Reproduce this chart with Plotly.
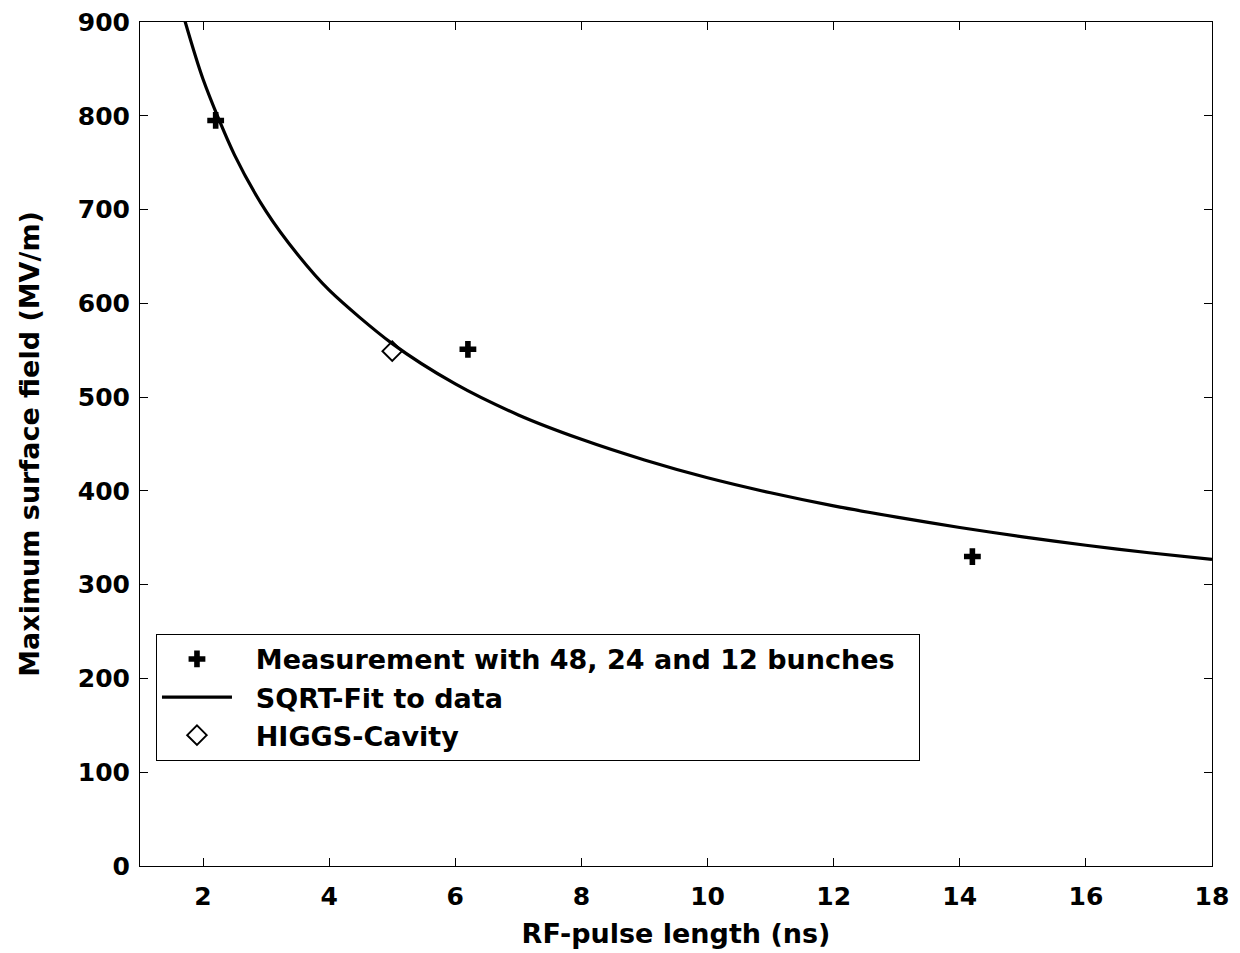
import plotly.graph_objects as go

# Breakdown measurements (pulse length in ns, surface field in MV/m)
meas_x = [2.2, 6.2, 14.2]
meas_y = [795, 551, 330]

# HIGGS cavity result
higgs_x = [5.0]
higgs_y = [549]

# SQRT fit curve sampled along pulse length
fit_x = [1.70, 2.0, 2.5, 3.0, 3.5, 4.0, 5.0, 6.0, 7.0, 8.0, 9.0,
         10.0, 11.0, 12.0, 13.0, 14.0, 15.0, 16.0, 17.0, 18.0]
fit_y = [904, 839, 758, 698, 652, 614, 557, 514, 481, 455, 433,
         414, 398, 384, 372, 361, 351, 342, 334, 327]

x_ticks = [2, 4, 6, 8, 10, 12, 14, 16, 18]
y_ticks = [0, 100, 200, 300, 400, 500, 600, 700, 800, 900]

FONT = "DejaVu Sans"
PAD = "\u00a0\u00a0"

fig = go.Figure()
fig.add_trace(go.Scatter(
    x=meas_x, y=meas_y, mode="markers",
    name=PAD + "Measurement with 48, 24 and 12 bunches" + PAD,
    marker=dict(symbol="cross", size=14, color="black"),
))
fig.add_trace(go.Scatter(
    x=fit_x, y=fit_y, mode="lines",
    name=PAD + "SQRT-Fit to data",
    line=dict(color="black", width=3.2, shape="spline", smoothing=0.8),
))
fig.add_trace(go.Scatter(
    x=higgs_x, y=higgs_y, mode="markers",
    name=PAD + "HIGGS-Cavity",
    marker=dict(symbol="diamond-open", size=15, color="black",
                line=dict(width=2, color="black")),
))

axis_common = dict(
    showline=True, linecolor="black", linewidth=1, mirror="ticks",
    ticks="inside", ticklen=8, tickcolor="black", tickwidth=1,
    showgrid=False, zeroline=False, automargin=False,
    tickfont=dict(family=FONT, size=25, color="black", weight="bold"),
)

fig.update_xaxes(
    range=[1, 18], tickvals=x_ticks, ticktext=[str(v) for v in x_ticks],
    ticklabelstandoff=8,
    title=dict(text="RF-pulse length (ns)", standoff=14,
               font=dict(family=FONT, size=27, color="black", weight="bold")),
    **axis_common,
)
fig.update_yaxes(
    range=[0, 900], tickvals=y_ticks, ticktext=[str(v) for v in y_ticks],
    ticklabelstandoff=4,
    title=dict(text="Maximum surface field (MV/m)", standoff=30,
               font=dict(family=FONT, size=27, color="black", weight="bold")),
    **axis_common,
)

fig.update_layout(
    width=1240, height=953,
    margin=dict(l=140, r=28, t=22, b=87),
    paper_bgcolor="white", plot_bgcolor="white",
    showlegend=True,
    legend=dict(
        x=0.0149, y=0.275, xanchor="left", yanchor="top",
        bgcolor="white", bordercolor="black", borderwidth=1,
        font=dict(family=FONT, size=27, color="black", weight="bold"),
        itemwidth=70,
    ),
)

fig.write_html("out.html")
